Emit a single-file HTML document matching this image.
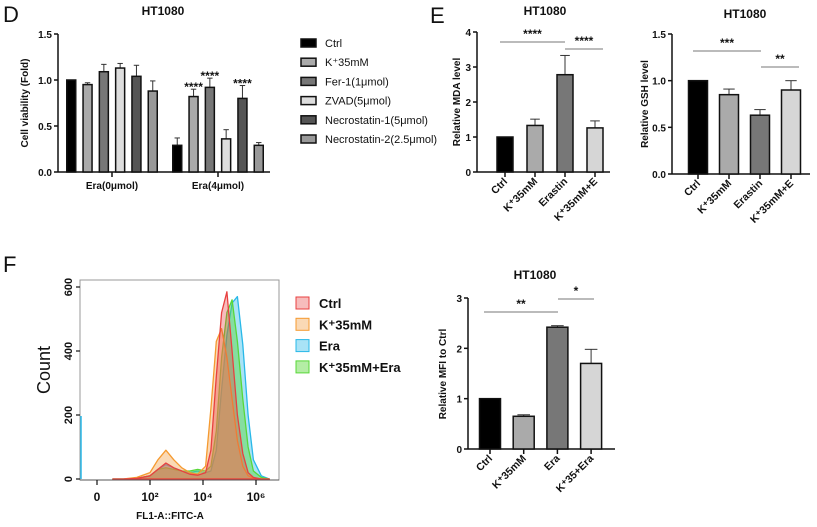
<!DOCTYPE html>
<html><head><meta charset="utf-8"><style>
body{margin:0;background:#fff}
svg{display:block;font-family:"Liberation Sans",Arial,sans-serif}
</style></head><body>
<svg id="fig" width="817" height="527" viewBox="0 0 817 527">
<g id="root"></g>
</svg>
<script>
// ---- Panel D data ----
const dGroups = ["Era(0μmol)", "Era(4μmol)"];
const dSeries = ["Ctrl", "K⁺35mM", "Fer-1(1μmol)", "ZVAD(5μmol)", "Necrostatin-1(5μmol)", "Necrostatin-2(2.5μmol)"];
const dVals0 = [1.0, 0.95, 1.09, 1.13, 1.04, 0.88];
const dErr0 = [0, 0.02, 0.08, 0.05, 0.12, 0.11];
const dVals1 = [0.29, 0.82, 0.92, 0.36, 0.80, 0.29];
const dErr1 = [0.08, 0.08, 0.10, 0.10, 0.14, 0.03];
const dTicks = [0, 0.5, 1.0, 1.5];
const dTickLabels = ["0.0", "0.5", "1.0", "1.5"];
// ---- Panel E MDA ----
const eCats = ["Ctrl", "K⁺35mM", "Erastin", "K⁺35mM+E"];
const mdaVals = [1.0, 1.33, 2.78, 1.26];
const mdaErr = [0, 0.18, 0.55, 0.2];
const mdaTicks = [0, 1, 2, 3, 4];
// ---- Panel E GSH ----
const gshVals = [1.0, 0.85, 0.63, 0.90];
const gshErr = [0, 0.06, 0.06, 0.10];
const gshTicks = [0, 0.5, 1.0, 1.5];
const gshTickLabels = ["0.0", "0.5", "1.0", "1.5"];
// ---- Panel F MFI ----
const fCats = ["Ctrl", "K⁺35mM", "Era", "K⁺35+Era"];
const mfiVals = [1.0, 0.65, 2.42, 1.70];
const mfiErr = [0, 0.03, 0.03, 0.28];
const mfiTicks = [0, 1, 2, 3];
// ---- Histogram ----
const histLogs = [0.6, 1, 1.5, 2, 2.3, 2.6, 2.9, 3.2, 3.5, 3.8, 4.1, 4.3, 4.5, 4.7, 4.9, 5.1, 5.3, 5.5, 5.7, 5.9, 6.2, 6.5];
const histCtrl = [0, 0, 2, 10, 30, 50, 35, 25, 15, 12, 20, 90, 320, 520, 585, 400, 200, 80, 20, 5, 0, 0];
const histK = [0, 0, 5, 20, 60, 90, 60, 35, 20, 15, 40, 220, 430, 470, 380, 250, 120, 40, 10, 3, 0, 0];
const histEra = [0, 0, 2, 10, 30, 45, 35, 25, 20, 25, 20, 25, 90, 280, 450, 550, 570, 420, 200, 60, 10, 0];
const histKEra = [0, 0, 2, 10, 30, 35, 30, 25, 25, 30, 25, 40, 150, 380, 520, 560, 430, 250, 100, 25, 5, 0];
const histNames = ["Ctrl", "K⁺35mM", "Era", "K⁺35mM+Era"];
const histYTicks = [0, 200, 400, 600];

const NS = "http://www.w3.org/2000/svg";
const root = document.getElementById("root");
function el(tag, attrs, parent, txt) {
  const e = document.createElementNS(NS, tag);
  for (const k in attrs) e.setAttribute(k, attrs[k]);
  if (txt !== undefined) e.textContent = txt;
  (parent || root).appendChild(e);
  return e;
}
function txt(x, y, s, size, opt, parent) {
  opt = opt || {};
  const t = el("text", {x: x, y: y, "font-size": size, "text-anchor": opt.anchor || "middle", "font-weight": opt.bold ? "bold" : "normal", fill: "#111"}, parent, s);
  if (opt.rot) t.setAttribute("transform", "rotate(" + opt.rot + " " + x + " " + y + ")");
  
  
  return t;
}
function line(x1, y1, x2, y2, w, c, parent) {
  return el("line", {x1: x1, y1: y1, x2: x2, y2: y2, stroke: c || "#111", "stroke-width": w || 1.5}, parent);
}
function yAxis(g, x, yScale, ticks, labels, x2) {
  line(x, yScale(ticks[ticks.length - 1]), x, yScale(ticks[0]), 1.5, "#111", g);
  ticks.forEach((t, i) => {
    line(x - 4, yScale(t), x, yScale(t), 1.5, "#111", g);
    txt(x - 6, yScale(t) + 4, labels ? labels[i] : String(t), 10, {anchor: "end", bold: true, name: "y-tick-label"}, g);
  });
  line(x, yScale(ticks[0]), x2, yScale(ticks[0]), 1.5, "#111", g);
}
function bar(g, cx, w, v, err, yScale, fill, name) {
  const y0 = yScale(0), y1 = yScale(v);
  if (err > 0) {
    line(cx, y1, cx, yScale(v + err), 1, "#333", g);
    line(cx - w * 0.3, yScale(v + err), cx + w * 0.3, yScale(v + err), 1, "#333", g);
  }
  const r = el("rect", {x: cx - w / 2, y: y1, width: w, height: y0 - y1, fill: fill, stroke: "#111", "stroke-width": 1.5}, g);
  
  
}
function sig(g, x1, x2, y, s) {
  line(x1, y, x2, y, 1, "#777", g);
  txt((x1 + x2) / 2, y - 4, s, 12, {bold: true, name: "significance-stars"}, g);
}
const catFill = ["#000", "#aaa", "#777", "#d6d6d6"];

// ===== Panel D =====
(function () {
  const g = el("g", {});
  
  
  txt(3, 22, "D", 22, {anchor: "start", name: "panel-letter-d"});
  txt(163, 15, "HT1080", 12, {bold: true, name: "chart-title"}, g);
  const y = v => 172 - (v / 1.5) * 138;
  yAxis(g, 58, y, dTicks, dTickLabels, 270);
  txt(28, 103, "Cell viability (Fold)", 10, {bold: true, rot: -90, name: "y-axis-title"}, g);
  const fills = ["#000", "#aaa", "#777", "#ddd", "#555", "#999"];
  const gc = [112, 218];
  [[dVals0, dErr0], [dVals1, dErr1]].forEach((d, gi) => {
    line(gc[gi], 172, gc[gi], 177, 1.5, "#111", g);
    txt(gc[gi], 189, dGroups[gi], 10, {bold: true, name: "x-group-label"}, g);
    d[0].forEach((v, i) => {
      const cx = gc[gi] + (i - 2.5) * 16.3;
      bar(g, cx, 9, v, d[1][i], y, fills[i], "bar-" + gi + "-" + i);
    });
  });
  [1, 2, 4].forEach(i => {
    const cx = gc[1] + (i - 2.5) * 16.3;
    txt(cx, y(dVals1[i] + dErr1[i]) + 2, "****", 12, {bold: true, name: "significance-stars"}, g);
  });
  dSeries.forEach((s, i) => {
    const yy = 43 + i * 19.2;
    const r = el("rect", {x: 301, y: yy - 4, width: 15, height: 8, fill: fills[i], stroke: "#111", "stroke-width": 1.5}, g);
    
    
    txt(325, yy + 4, s, 11, {anchor: "start", name: "legend-entry"}, g);
  });
})();

// ===== Panel E MDA =====
(function () {
  const g = el("g", {});
  
  
  txt(430, 23, "E", 22, {anchor: "start", name: "panel-letter-e"});
  txt(545, 15, "HT1080", 12, {bold: true, name: "chart-title"}, g);
  const y = v => 172 - (v / 4) * 140;
  yAxis(g, 477, y, mdaTicks, null, 610);
  txt(460, 102, "Relative MDA level", 10, {bold: true, rot: -90, name: "y-axis-title"}, g);
  mdaVals.forEach((v, i) => {
    const cx = 505 + i * 30;
    bar(g, cx, 16, v, mdaErr[i], y, catFill[i], "mda-bar-" + i);
    line(cx, 172, cx, 177, 1.5, "#111", g);
    txt(cx + 3, 182, eCats[i], 10.5, {anchor: "end", bold: true, rot: -45, name: "x-tick-label"}, g);
  });
  sig(g, 500, 565, 42, "****");
  sig(g, 565, 603, 49, "****");
})();

// ===== Panel E GSH =====
(function () {
  const g = el("g", {});
  
  
  txt(745, 18, "HT1080", 12, {bold: true, name: "chart-title"}, g);
  const y = v => 174 - (v / 1.5) * 140;
  yAxis(g, 672, y, gshTicks, gshTickLabels, 810);
  txt(648, 104, "Relative GSH level", 10, {bold: true, rot: -90, name: "y-axis-title"}, g);
  gshVals.forEach((v, i) => {
    const cx = 698 + i * 31;
    bar(g, cx, 19, v, gshErr[i], y, catFill[i], "gsh-bar-" + i);
    line(cx, 174, cx, 179, 1.5, "#111", g);
    txt(cx + 3, 184, eCats[i], 10.5, {anchor: "end", bold: true, rot: -45, name: "x-tick-label"}, g);
  });
  sig(g, 693, 761, 51, "***");
  sig(g, 761, 799, 67, "**");
})();

// ===== Panel F histogram =====
(function () {
  const g = el("g", {});
  
  
  txt(3, 272, "F", 22, {anchor: "start", name: "panel-letter-f"});
  const x = l => 97 + l * 26.5;
  const y = c => 479 - (c / 600) * 192;
  const fr = el("rect", {x: 80, y: 280, width: 199, height: 200, fill: "#fff", stroke: "#999", "stroke-width": 1}, g);
  
  
  const cols = [["#e84040", "rgba(232,64,64,0.35)"], ["#f59a30", "rgba(245,170,90,0.45)"], ["#28b8e8", "rgba(40,184,232,0.4)"], ["#58d838", "rgba(88,216,56,0.45)"]];
  [histEra, histKEra, histK, histCtrl].forEach((s, k) => {
    const ci = [2, 3, 1, 0][k];
    let d = "M" + x(histLogs[0]) + "," + y(0);
    histLogs.forEach((l, i) => { d += " L" + x(l).toFixed(1) + "," + y(s[i]).toFixed(1); });
    d += " L" + x(histLogs[histLogs.length - 1]) + "," + y(0) + " Z";
    const p = el("path", {d: d, fill: cols[ci][1], stroke: cols[ci][0], "stroke-width": 1.3, "stroke-linejoin": "round"}, g);
    
    
  });
  line(81, 479, 81, 416, 1.5, "#28b8e8", g);
  histYTicks.forEach(t => {
    line(76, y(t), 80, y(t), 1.2, "#111", g);
    txt(72, y(t), String(t), 11, {bold: true, rot: -90, name: "y-tick-label"}, g);
  });
  txt(50, 370, "Count", 18, {rot: -90, name: "y-axis-title"}, g);
  line(80, 480, 279, 480, 1, "#555", g);
  [["0", 0], ["10²", 2], ["10⁴", 4], ["10⁶", 6]].forEach(a => {
    line(x(a[1]), 480, x(a[1]), 485, 1.2, "#111", g);
    txt(x(a[1]), 501, a[0], 12, {bold: true, name: "x-tick-label"}, g);
  });
  txt(170, 519, "FL1-A::FITC-A", 10, {bold: true, name: "x-axis-title"}, g);
  histNames.forEach((n, i) => {
    const yy = 303 + i * 21.3;
    const r = el("rect", {x: 296, y: yy - 6, width: 13, height: 12, fill: cols[i][1], stroke: cols[i][0], "stroke-width": 1}, g);
    
    
    txt(319, yy + 5, n, 13, {anchor: "start", bold: true, name: "legend-entry"}, g);
  });
})();

// ===== Panel F MFI =====
(function () {
  const g = el("g", {});
  
  
  txt(535, 279, "HT1080", 12, {bold: true, name: "chart-title"}, g);
  const y = v => 449 - (v / 3) * 151;
  yAxis(g, 468, y, mfiTicks, null, 615);
  txt(446, 374, "Relative MFI to Ctrl", 10, {bold: true, rot: -90, name: "y-axis-title"}, g);
  mfiVals.forEach((v, i) => {
    const cx = 490 + i * 33.7;
    bar(g, cx, 21, v, mfiErr[i], y, catFill[i], "mfi-bar-" + i);
    line(cx, 449, cx, 454, 1.5, "#111", g);
    txt(cx + 3, 459, fCats[i], 10.5, {anchor: "end", bold: true, rot: -45, name: "x-tick-label"}, g);
  });
  sig(g, 484, 558, 312, "**");
  sig(g, 558, 594, 299, "*");
})();
</script>
</body></html>
